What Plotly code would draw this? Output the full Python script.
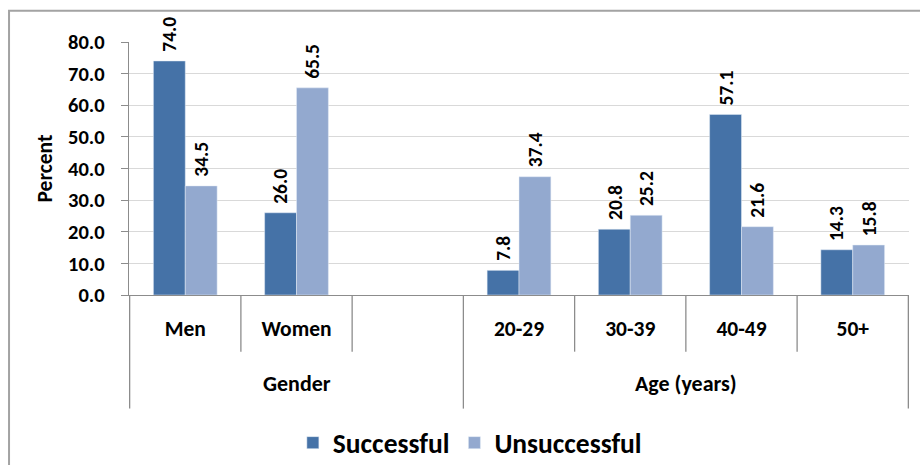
import plotly.graph_objects as go

# Categories along the x axis (a blank slot separates the two groups)
categories = ["Men", "Women", " ", "20-29", "30-39", "40-49", "50+"]
groups = ["Gender", "Gender", "Gender", "Age (years)", "Age (years)", "Age (years)", "Age (years)"]
group_labels = ["Gender", "Age (years)"]

successful = [74.0, 26.0, None, 7.8, 20.8, 57.1, 14.3]
unsuccessful = [34.5, 65.5, None, 37.4, 25.2, 21.6, 15.8]

y_ticks = [0, 10, 20, 30, 40, 50, 60, 70, 80]

FONT = "Carlito, Liberation Sans, Arial, sans-serif"
DARK = "#4572A7"
LIGHT = "#93A9CF"
AXIS_GREY = "#8c8c8c"

series = [("Successful", successful, DARK, -1), ("Unsuccessful", unsuccessful, LIGHT, 1)]

fig = go.Figure()
for name, vals, col, side in series:
    fig.add_trace(go.Bar(x=categories, y=vals, name=name, marker_color=col))
    # Value labels, rotated, sitting just above each bar
    for c, v in zip(categories, vals):
        if v is None:
            continue
        fig.add_annotation(x=c, y=v, xref="x", yref="y", text=f"{v:.1f}",
                           textangle=-90, showarrow=False,
                           xanchor="center", yanchor="bottom",
                           xshift=side * 16, yshift=7,
                           font=dict(family=FONT, size=19.5, color="black", weight="bold"))

# Category boundary lines below the axis: short between categories, long at group edges
n = len(categories)
for i in range(n + 1):
    xb = i - 0.5
    left = groups[i - 1] if i > 0 else None
    right = groups[i] if i < n else None
    long_line = left != right
    fig.add_shape(type="line", xref="x", yref="paper", x0=xb, x1=xb,
                  y0=0, y1=-0.449 if long_line else -0.224,
                  line=dict(color=AXIS_GREY, width=1.3))

# Group labels centred under their categories
for g in group_labels:
    idx = [i for i, gg in enumerate(groups) if gg == g]
    fig.add_annotation(x=(idx[0] + idx[-1]) / 2, y=-0.35, xref="x", yref="paper",
                       text=g, showarrow=False, yanchor="middle",
                       font=dict(family=FONT, size=22, color="black", weight="bold"))

# Y axis title
fig.add_annotation(x=0, y=0.5, xref="paper", yref="paper", xshift=-85,
                   xanchor="center", yanchor="middle",
                   text="Percent", textangle=-90, showarrow=False,
                   font=dict(family=FONT, size=21.5, color="black", weight="bold"))

# Outer chart frame
fig.add_shape(type="rect", xref="paper", yref="paper",
              x0=-0.1538, x1=1.2, y0=-0.9, y1=1.124,
              line=dict(color="#a3a3a3", width=2), fillcolor="rgba(0,0,0,0)")

fig.update_layout(
    width=920, height=465,
    margin=dict(l=129, r=11, t=42, b=170, autoexpand=False),
    paper_bgcolor="white", plot_bgcolor="white",
    barmode="group", bargap=0.427, bargroupgap=0,
    font=dict(family=FONT, color="black"),
    showlegend=True,
    legend=dict(orientation="h", x=0.437, xanchor="center", y=-0.584, yanchor="middle",
                font=dict(family=FONT, size=27.5, color="black", weight="bold"),
                traceorder="normal"),
    xaxis=dict(type="category", categoryorder="array", categoryarray=categories,
               showline=True, linecolor=AXIS_GREY, linewidth=1.3,
               ticks="", showgrid=False, ticklabelstandoff=14,
               tickfont=dict(family=FONT, size=21.5, color="black", weight="bold")),
    yaxis=dict(range=[0, 80], tickvals=y_ticks, ticktext=[f"{v:.1f}" for v in y_ticks],
               showline=True, linecolor=AXIS_GREY, linewidth=1.3,
               ticks="outside", ticklen=7, tickcolor=AXIS_GREY, tickwidth=1.3,
               showgrid=True, gridcolor="#d9d9d9", gridwidth=1.3,
               zeroline=False, ticklabelstandoff=12,
               tickfont=dict(family=FONT, size=20.5, color="black", weight="bold")),
)

fig.write_html("out.html")
